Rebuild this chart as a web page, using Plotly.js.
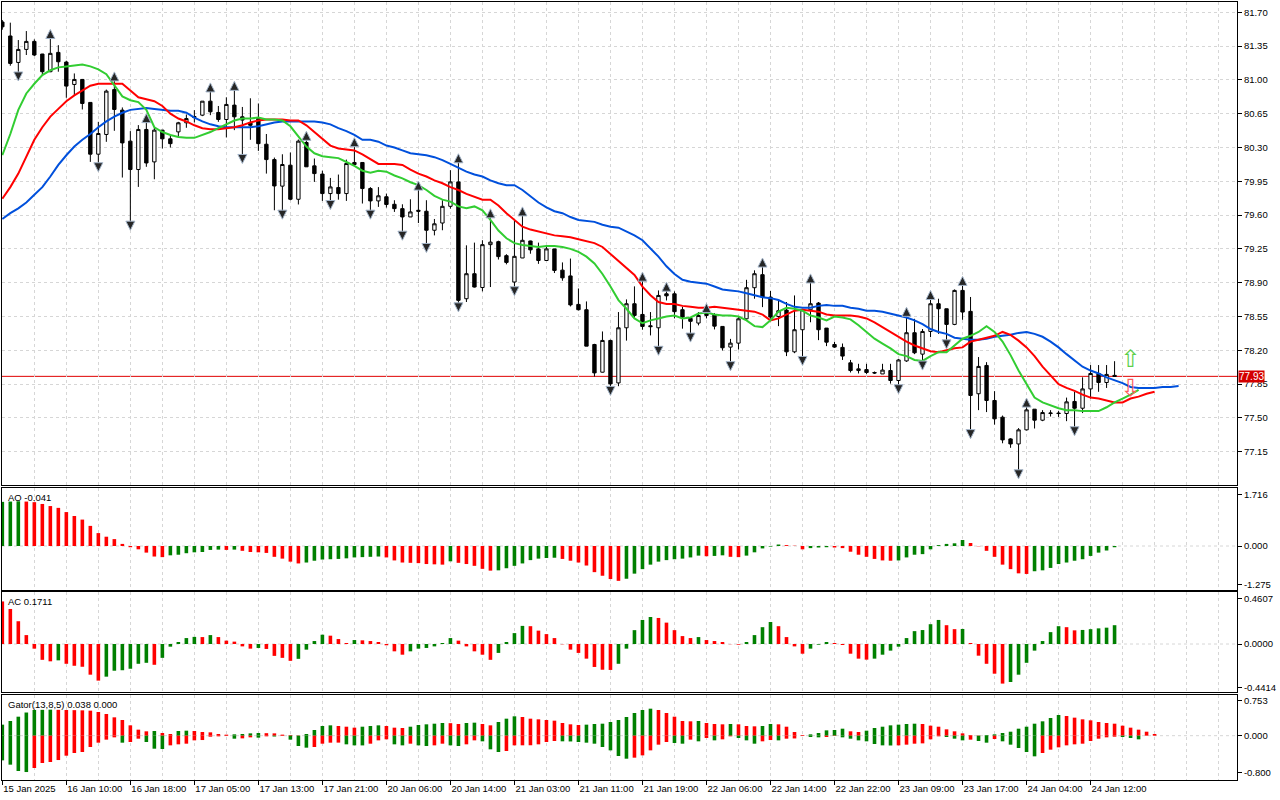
<!DOCTYPE html>
<html>
<head>
<meta charset="utf-8">
<script src="https://cdn.plot.ly/plotly-3.0.1.min.js"></script>
<style>
  html, body { margin: 0; padding: 0; background: #fff; }
  #chart { width: 1280px; height: 800px; }
</style>
</head>
<body>
<div id="chart"></div>
<script>
// H1 bars, index 0 = first bar on screen
var opens = [
81.60,81.455,81.181,81.316,81.399,81.268,81.085,81.285,81.185,80.953,
81.005,80.767,80.231,80.435,80.90,80.687,80.366,80.072,80.487,80.151,
80.48,80.39,80.462,80.556,80.61,80.635,80.78,80.663,80.59,80.739,
80.618,80.56,80.60,80.334,80.175,79.90,80.117,79.764,80.352,80.11,
80.025,79.823,79.885,79.823,80.124,80.145,79.875,79.747,79.79,79.712,
79.667,79.581,79.65,79.64,79.443,79.518,79.691,79.944,78.734,78.993,
78.85,79.294,79.325,79.18,78.907,79.156,79.332,79.25,79.13,79.25,
79.03,78.97,78.675,78.62,78.26,77.973,78.302,77.862,78.433,78.682,
78.571,78.454,78.433,78.785,78.785,78.62,78.53,78.482,78.56,78.567,
78.447,78.233,78.274,78.526,78.848,78.983,78.751,78.55,78.616,78.184,
78.413,78.62,78.689,78.43,78.26,78.23,78.07,77.99,78.00,77.97,
77.955,77.99,77.887,78.09,78.382,78.16,78.395,78.682,78.63,78.468,
78.82,78.603,77.75,78.043,77.68,77.507,77.282,77.23,77.376,77.59,
77.476,77.545,77.55,77.545,77.67,77.60,77.80,77.96,77.866,77.94];
var highs = [
81.62,81.593,81.413,81.506,81.42,81.27,81.437,81.36,81.199,81.067,
81.01,80.77,80.566,80.90,80.998,80.715,80.47,80.532,80.566,80.504,
80.48,80.42,80.566,80.642,80.687,80.78,80.884,80.73,80.82,80.90,
80.72,80.81,80.756,80.44,80.196,80.23,80.248,80.383,80.383,80.186,
80.06,79.985,80.02,80.175,80.317,80.145,79.89,79.89,79.823,79.754,
79.712,79.764,79.867,79.754,79.56,79.754,80.065,80.15,79.287,79.315,
79.34,79.58,79.335,79.195,79.553,79.60,79.335,79.315,79.287,79.25,
79.11,79.15,78.84,78.706,78.267,78.395,78.31,78.596,78.727,78.862,
78.924,78.596,78.82,78.82,78.81,78.65,78.544,78.596,78.60,78.585,
78.447,78.318,78.544,78.93,79.028,79.07,78.814,78.72,78.70,78.768,
78.62,78.906,78.70,78.43,78.288,78.27,78.10,78.06,78.06,77.98,
78.06,78.06,78.11,78.56,78.526,78.42,78.734,78.734,78.63,78.83,
78.88,78.752,78.13,78.077,77.777,77.524,77.29,77.394,77.62,77.59,
77.58,77.58,77.57,77.71,77.77,77.92,78.047,78.047,78.047,78.087];
var lows = [
81.52,81.147,81.074,81.258,81.247,81.04,81.08,81.085,80.815,80.843,
80.694,80.151,80.134,80.359,80.473,79.989,79.529,79.892,80.10,79.971,
80.29,80.30,80.41,80.504,80.56,80.625,80.635,80.566,80.404,80.48,
80.22,80.38,80.265,80.03,79.65,79.643,79.754,79.71,80.10,79.944,
79.747,79.743,79.76,79.747,80.11,79.72,79.643,79.685,79.678,79.633,
79.425,79.58,79.518,79.298,79.39,79.443,79.667,78.683,78.70,78.85,
78.81,78.855,79.14,79.09,78.85,79.155,79.20,79.095,79.125,79.00,
78.92,78.654,78.613,78.243,77.928,77.97,77.818,77.828,78.30,78.537,
78.413,78.354,78.233,78.716,78.53,78.424,78.37,78.458,78.53,78.416,
78.198,78.074,78.208,78.516,78.734,78.647,78.527,78.45,78.14,78.17,
78.128,78.49,78.305,78.243,78.225,78.10,77.97,77.96,77.955,77.955,
77.955,77.855,77.835,78.08,78.16,78.08,78.336,78.37,78.30,78.46,
78.516,77.37,77.58,77.56,77.43,77.237,77.19,76.954,77.37,77.39,
77.466,77.514,77.51,77.466,77.40,77.55,77.70,77.77,77.81,77.925];
var closes = [
81.55,81.171,81.316,81.399,81.258,81.085,81.275,81.188,80.936,81.005,
80.756,80.231,80.445,80.884,80.694,80.348,80.072,80.487,80.14,80.48,
80.39,80.34,80.556,80.60,80.62,80.78,80.67,80.59,80.746,80.618,
80.584,80.53,80.34,80.175,79.902,80.124,79.764,80.366,80.10,80.03,
79.823,79.892,79.823,80.134,80.145,79.875,79.747,79.80,79.71,79.667,
79.581,79.633,79.64,79.443,79.51,79.691,79.944,78.717,78.993,78.855,
79.294,79.32,79.17,79.11,79.173,79.339,79.24,79.13,79.25,79.027,
78.95,78.67,78.62,78.243,77.966,78.302,77.852,78.433,78.682,78.561,
78.447,78.445,78.768,78.764,78.60,78.544,78.50,78.56,78.58,78.45,
78.226,78.274,78.526,78.848,78.993,78.751,78.544,78.61,78.184,78.413,
78.62,78.682,78.413,78.284,78.233,78.14,77.99,78.008,77.97,77.965,
77.995,77.887,78.10,78.382,78.174,78.395,78.682,78.63,78.468,78.82,
78.596,77.732,78.033,77.68,77.49,77.272,77.23,77.376,77.583,77.476,
77.555,77.55,77.545,77.666,77.60,77.80,77.96,77.866,77.95,77.93];

// one label every 8 bars
var timeLabels = ['15 Jan 2025','16 Jan 10:00','16 Jan 18:00','17 Jan 05:00','17 Jan 13:00',
  '17 Jan 21:00','20 Jan 06:00','20 Jan 14:00','21 Jan 03:00','21 Jan 11:00','21 Jan 19:00',
  '22 Jan 06:00','22 Jan 14:00','22 Jan 22:00','23 Jan 09:00','23 Jan 17:00','24 Jan 04:00','24 Jan 12:00'];

// Alligator as drawn (already shifted forward 8 / 5 / 3 bars)
var jaw = [
79.56,79.62,79.67,79.73,79.81,79.89,80.00,80.12,80.22,80.31,
80.38,80.44,80.51,80.57,80.62,80.66,80.69,80.70,80.71,80.70,
80.69,80.68,80.68,80.66,80.61,80.57,80.54,80.52,80.51,80.51,
80.51,80.51,80.52,80.54,80.56,80.57,80.57,80.57,80.57,80.57,
80.56,80.54,80.50,80.47,80.43,80.38,80.38,80.36,80.32,80.30,
80.27,80.24,80.23,80.22,80.20,80.17,80.13,80.09,80.05,80.02,
80.00,79.96,79.93,79.91,79.91,79.86,79.79,79.73,79.68,79.64,
79.62,79.58,79.55,79.54,79.53,79.50,79.48,79.47,79.43,79.39,
79.34,79.26,79.17,79.07,78.99,78.93,78.91,78.90,78.89,78.86,
78.83,78.82,78.81,78.79,78.77,78.75,78.74,78.72,78.68,78.65,
78.64,78.64,78.66,78.67,78.66,78.66,78.64,78.63,78.61,78.61,
78.60,78.58,78.56,78.54,78.51,78.47,78.42,78.39,78.37,78.33,
78.32,78.31,78.31,78.32,78.34,78.35,78.36,78.38,78.39,78.37,
78.34,78.29,78.23,78.16,78.09,78.03,77.99,77.96,77.92,77.89,
77.86,77.82,77.81,77.81,77.81,77.82,77.82,77.83];
var teeth = [
79.77,79.89,80.03,80.20,80.38,80.51,80.62,80.70,80.78,80.84,
80.89,80.94,80.96,80.96,80.96,80.96,80.89,80.82,80.80,80.78,
80.73,80.65,80.60,80.57,80.53,80.50,80.49,80.49,80.50,80.51,
80.53,80.56,80.58,80.59,80.59,80.59,80.58,80.58,80.53,80.46,
80.38,80.32,80.29,80.28,80.27,80.23,80.18,80.13,80.13,80.13,
80.12,80.07,80.03,80.00,79.96,79.93,79.89,79.86,79.82,79.79,
79.76,79.76,79.70,79.62,79.55,79.48,79.45,79.43,79.41,79.39,
79.38,79.37,79.35,79.33,79.31,79.27,79.20,79.13,79.06,78.98,
78.86,78.77,78.70,78.68,78.68,78.66,78.65,78.64,78.64,78.65,
78.64,78.63,78.62,78.61,78.60,78.57,78.51,78.53,78.57,78.61,
78.62,78.61,78.60,78.57,78.56,78.56,78.56,78.55,78.53,78.49,
78.44,78.39,78.34,78.29,78.25,78.22,78.19,78.18,78.20,78.22,
78.23,78.29,78.31,78.33,78.35,78.39,78.36,78.30,78.23,78.14,
78.03,77.94,77.85,77.81,77.78,77.74,77.71,77.70,77.68,77.66,
77.66,77.70,77.72,77.75,77.77];
var lips = [
80.22,80.44,80.69,80.86,80.96,81.05,81.10,81.13,81.14,81.15,
81.16,81.14,81.11,81.06,80.94,80.83,80.79,80.77,80.69,80.51,
80.46,80.43,80.41,80.40,80.40,80.43,80.46,80.50,80.54,80.58,
80.60,80.60,80.61,80.59,80.59,80.58,80.52,80.41,80.31,80.24,
80.21,80.20,80.19,80.15,80.11,80.06,80.04,80.06,80.05,80.01,
79.98,79.94,79.91,79.86,79.80,79.76,79.74,79.69,79.67,79.69,
79.65,79.55,79.44,79.36,79.31,79.29,79.28,79.27,79.28,79.28,
79.27,79.25,79.22,79.17,79.10,78.99,78.86,78.72,78.63,78.53,
78.48,78.51,78.53,78.55,78.56,78.53,78.54,78.58,78.59,78.57,
78.56,78.56,78.55,78.51,78.45,78.44,78.51,78.60,78.64,78.63,
78.61,78.56,78.54,78.51,78.55,78.54,78.52,78.46,78.39,78.32,
78.27,78.22,78.16,78.14,78.10,78.09,78.14,78.18,78.18,78.25,
78.32,78.35,78.39,78.45,78.39,78.29,78.15,77.99,77.85,77.71,
77.66,77.63,77.60,77.58,77.58,77.57,77.57,77.57,77.61,77.66,
77.70,77.74,77.79];

// bars that carry a Bill Williams fractal
var fractalUp = [6,14,18,26,29,38,44,52,57,61,65,80,83,88,95,101,113,116,120,128];
var fractalDown = [2,12,16,30,35,41,46,50,53,57,64,76,82,86,91,100,112,115,118,121,127,134];

// the two hollow signal arrows right of the last bar
var signalBar = 141;
var signalUpPrice = 78.09;
var signalDownPrice = 77.79;

var aoValues = [
1.47,1.48,1.49,1.48,1.46,1.40,1.33,1.27,1.13,1.00,
0.88,0.67,0.43,0.31,0.23,0.07,-0.04,-0.11,-0.22,-0.35,
-0.37,-0.31,-0.29,-0.24,-0.21,-0.20,-0.13,-0.12,-0.13,-0.12,
-0.16,-0.20,-0.21,-0.23,-0.36,-0.42,-0.52,-0.58,-0.55,-0.49,
-0.45,-0.44,-0.43,-0.41,-0.38,-0.37,-0.36,-0.35,-0.38,-0.48,
-0.55,-0.56,-0.57,-0.60,-0.61,-0.62,-0.51,-0.56,-0.60,-0.66,
-0.76,-0.82,-0.81,-0.74,-0.66,-0.58,-0.47,-0.42,-0.40,-0.39,
-0.43,-0.49,-0.55,-0.65,-0.87,-0.99,-1.10,-1.16,-1.09,-0.92,
-0.77,-0.62,-0.52,-0.47,-0.44,-0.42,-0.38,-0.32,-0.34,-0.33,
-0.31,-0.36,-0.37,-0.32,-0.21,-0.08,-0.02,0.05,0.03,0.01,
-0.11,-0.07,-0.05,-0.04,-0.05,-0.07,-0.19,-0.29,-0.36,-0.43,
-0.48,-0.49,-0.48,-0.38,-0.29,-0.27,-0.11,0.03,0.07,0.09,
0.20,0.10,-0.01,-0.16,-0.36,-0.62,-0.77,-0.91,-0.93,-0.84,
-0.81,-0.73,-0.60,-0.55,-0.49,-0.44,-0.33,-0.22,-0.15,-0.041];
var acValues = [
0.43,0.354,0.23,0.09,-0.047,-0.16,-0.175,-0.165,-0.20,-0.22,
-0.23,-0.31,-0.37,-0.33,-0.27,-0.265,-0.25,-0.20,-0.19,-0.21,
-0.14,-0.027,0.02,0.06,0.072,0.070,0.09,0.07,0.034,0.024,
-0.024,-0.047,-0.04,-0.05,-0.12,-0.14,-0.17,-0.15,-0.057,0.03,
0.094,0.084,0.05,0.01,0.04,0.037,0.03,0.02,-0.013,-0.074,
-0.108,-0.074,-0.047,-0.04,-0.024,0.01,0.06,0.034,-0.024,-0.074,
-0.108,-0.16,-0.09,0.02,0.11,0.183,0.180,0.135,0.10,0.06,
-0.003,-0.057,-0.09,-0.148,-0.232,-0.26,-0.262,-0.20,-0.047,0.14,
0.243,0.273,0.263,0.216,0.14,0.08,0.06,0.07,0.04,0.03,
0.02,-0.002,-0.007,0.02,0.09,0.17,0.222,0.18,0.07,-0.024,
-0.098,-0.047,-0.007,0.02,0.01,-0.01,-0.098,-0.148,-0.158,-0.148,
-0.108,-0.067,-0.027,0.06,0.13,0.141,0.20,0.243,0.19,0.15,
0.152,0.01,-0.118,-0.20,-0.30,-0.40,-0.384,-0.31,-0.19,-0.067,
0.03,0.12,0.18,0.17,0.138,0.142,0.15,0.158,0.165,0.19];
// Gator: |jaw-teeth| above zero, |teeth-lips| below zero (stored as magnitudes)
var gatorUpper = [
0.238,0.317,0.41,0.50,0.554,0.558,0.562,0.558,0.554,0.551,
0.547,0.540,0.511,0.468,0.396,0.338,0.223,0.130,0.094,0.101,
0.058,0.036,0.101,0.108,0.101,0.079,0.072,0.036,0.022,0.029,
0.036,0.050,0.058,0.054,0.050,0.022,0.014,0.007,0.036,0.122,
0.209,0.223,0.209,0.194,0.173,0.194,0.209,0.223,0.209,0.173,
0.166,0.194,0.230,0.245,0.259,0.274,0.270,0.252,0.274,0.281,
0.252,0.223,0.295,0.367,0.418,0.403,0.367,0.353,0.338,0.324,
0.274,0.245,0.230,0.238,0.252,0.259,0.295,0.338,0.403,0.490,
0.554,0.583,0.554,0.490,0.410,0.317,0.310,0.317,0.274,0.252,
0.245,0.252,0.245,0.209,0.202,0.209,0.252,0.245,0.194,0.079,
0.014,0.029,0.058,0.115,0.122,0.151,0.094,0.079,0.108,0.166,
0.194,0.223,0.238,0.252,0.259,0.252,0.216,0.194,0.137,0.094,
0.050,0.014,0.007,0.014,0.029,0.058,0.086,0.151,0.194,0.259,
0.310,0.382,0.446,0.425,0.389,0.353,0.331,0.295,0.274,0.259,
0.216,0.173,0.130,0.086,0.036];
var gatorLower = [
0.533,0.626,0.763,0.785,0.698,0.590,0.569,0.526,0.432,0.374,
0.353,0.245,0.151,0.086,0.036,0.151,0.137,0.065,0.137,0.281,
0.288,0.209,0.187,0.173,0.101,0.094,0.022,0.014,0.007,0.065,
0.058,0.036,0.043,0.014,0.018,0.007,0.086,0.223,0.259,0.245,
0.173,0.151,0.150,0.187,0.209,0.210,0.173,0.101,0.079,0.187,
0.209,0.173,0.209,0.223,0.209,0.173,0.209,0.223,0.187,0.101,
0.122,0.295,0.353,0.331,0.209,0.208,0.207,0.187,0.137,0.115,
0.122,0.125,0.137,0.151,0.173,0.245,0.317,0.439,0.497,0.475,
0.425,0.317,0.194,0.137,0.158,0.173,0.086,0.122,0.050,0.101,
0.079,0.014,0.050,0.101,0.173,0.122,0.094,0.101,0.065,0.060,
0.004,0.029,0.036,0.029,0.007,0.036,0.065,0.101,0.122,0.180,
0.209,0.212,0.209,0.194,0.173,0.166,0.079,0.014,0.029,0.065,
0.101,0.086,0.115,0.151,0.072,0.122,0.194,0.266,0.353,0.446,
0.374,0.302,0.252,0.209,0.187,0.173,0.115,0.065,0.036,0.022,
0.029,0.050,0.079];

// value of each oscillator one bar before the window, only used to colour bar 0
var aoBefore = 1.46, acBefore = 0.50, gatorUpperBefore = 0.20, gatorLowerBefore = 0.50;

var aoTicks = [1.716, 0, -1.275], aoTickText = ['1.716', '0.000', '-1.275'];
var acTicks = [0.4607, 0, -0.4414], acTickText = ['0.4607', '0.0000', '-0.4414'];
var gatorTicks = [0.753, 0, -0.800], gatorTickText = ['0.753', '0.000', '-0.800'];

var GREEN = '#008000', RED = '#ff0000', GRID = '#d6d6d6';
var FONT = { family: 'Liberation Sans, Arial, sans-serif', size: 9.5, color: '#000' };

function indexes(n){ var a = []; for (var i = 0; i < n; i++) a.push(i); return a; }

function risingColors(values, before){
  return values.map(function(v, i){ var prev = i ? values[i-1] : before; return v > prev ? GREEN : RED; });
}

function makeLine(values, color){
  return { x: indexes(values.length), y: values, type: 'scatter', mode: 'lines', xaxis: 'x', yaxis: 'y',
           line: { color: color, width: 2 }, hoverinfo: 'skip' };
}

function makeFractals(idx, prices, gap, symbol){
  return { x: idx, y: idx.map(function(i){ return prices[i] + gap; }), type: 'scatter', mode: 'markers',
           xaxis: 'x', yaxis: 'y', hoverinfo: 'skip',
           marker: { symbol: symbol, size: 9, color: '#262626', line: { color: '#a3b4c8', width: 1 } } };
}

function makeHist(values, colors, xa, ya){
  return { x: indexes(values.length), y: values, type: 'bar', xaxis: xa, yaxis: ya, width: 0.45,
           marker: { color: colors, line: { width: 0 } }, hoverinfo: 'skip' };
}

var candles = { x: indexes(closes.length), open: opens, high: highs, low: lows, close: closes,
  type: 'candlestick', xaxis: 'x', yaxis: 'y', whiskerwidth: 0, hoverinfo: 'skip',
  increasing: { line: { color: '#000', width: 1 }, fillcolor: '#ffffff' },
  decreasing: { line: { color: '#000', width: 1 }, fillcolor: '#000000' } };

var signals = { x: [signalBar, signalBar], y: [signalUpPrice, signalDownPrice], type: 'scatter', mode: 'text',
  text: ['\u21e7', '\u21e9'], xaxis: 'x', yaxis: 'y', hoverinfo: 'skip',
  textfont: { family: 'DejaVu Sans', size: 24, color: ['#5ccf4a', '#ff5c5c'] } };

var gatorLowerNeg = gatorLower.map(function(v){ return -v; });

var traces = [
  candles,
  makeLine(jaw, '#0050dc'),
  makeLine(teeth, '#ff0000'),
  makeLine(lips, '#32cd32'),
  makeFractals(fractalUp, highs, 0.085, 'arrow-up'),
  makeFractals(fractalDown, lows, -0.085, 'arrow-down'),
  signals,
  makeHist(aoValues, risingColors(aoValues, aoBefore), 'x2', 'y2'),
  makeHist(acValues, risingColors(acValues, acBefore), 'x3', 'y3'),
  makeHist(gatorUpper, risingColors(gatorUpper, gatorUpperBefore), 'x4', 'y4'),
  makeHist(gatorLowerNeg, risingColors(gatorLower, gatorLowerBefore), 'x4', 'y4')
];

var gridIdx = []; for (var g = 0; g <= 152; g += 4) gridIdx.push(g);
var labelIdx = timeLabels.map(function(t, i){ return i * 8; });
var xRange = [-0.04, 154.3];

function xAxis(anchor, bottom){
  var ax = { anchor: anchor, range: xRange, showline: true, mirror: true, linecolor: '#000', linewidth: 1,
             zeroline: false, showgrid: true, gridcolor: GRID, griddash: '3px,3px', tickmode: 'array',
             tickvals: gridIdx, showticklabels: false, ticks: '', fixedrange: true };
  if (anchor !== 'y') ax.matches = 'x';
  if (bottom) {
    ax.tickvals = labelIdx; ax.ticktext = timeLabels; ax.showticklabels = true;
    ax.ticks = 'outside'; ax.ticklen = 4; ax.tickcolor = '#000'; ax.ticklabelposition = 'outside right';
    ax.minor = { tickmode: 'array', tickvals: gridIdx.filter(function(v){ return labelIdx.indexOf(v) < 0; }),
                 showgrid: true, gridcolor: GRID, griddash: '3px,3px', ticks: '' };
  }
  return ax;
}

function yAxis(anchor, domain, range, extra){
  var ax = { anchor: anchor, domain: domain, range: range, side: 'right', showline: true, mirror: true,
             linecolor: '#000', linewidth: 1, zeroline: false, ticks: 'outside', ticklen: 4, tickcolor: '#000',
             fixedrange: true, showgrid: false };
  for (var k in extra) ax[k] = extra[k];
  return ax;
}

function zeroLine(ya){
  return { type: 'line', xref: 'paper', x0: 0, x1: 1, yref: ya, y0: 0, y1: 0, layer: 'below',
           line: { color: GRID, width: 1, dash: '3px,3px' } };
}

function panelTitle(text, top){
  return { text: text, xref: 'paper', yref: 'paper', x: 0, y: top, xanchor: 'left', yanchor: 'top',
           xshift: 4, yshift: -2, showarrow: false, font: FONT };
}

var lastClose = closes[closes.length - 1];

var layout = {
  width: 1280, height: 800, margin: { l: 2, r: 43, t: 2, b: 20 },
  paper_bgcolor: '#ffffff', plot_bgcolor: '#ffffff', font: FONT,
  showlegend: false, hovermode: false, barmode: 'overlay', boxgap: 0.4,
  xaxis: Object.assign(xAxis('y', false), { rangeslider: { visible: false } }),
  xaxis2: xAxis('y2', false),
  xaxis3: xAxis('y3', false),
  xaxis4: xAxis('y4', true),
  yaxis: yAxis('x', [0.3792, 1], [76.805, 81.807],
    { tick0: 77.15, dtick: 0.35, tickformat: '.2f', showgrid: true, gridcolor: GRID, griddash: '3px,3px' }),
  yaxis2: yAxis('x2', [0.2442, 0.3753], [-1.465, 1.931], { tickmode: 'array', tickvals: aoTicks, ticktext: aoTickText }),
  yaxis3: yAxis('x3', [0.1131, 0.2416], [-0.485, 0.525], { tickmode: 'array', tickvals: acTicks, ticktext: acTickText }),
  yaxis4: yAxis('x4', [0, 0.1093], [-0.957, 0.879], { tickmode: 'array', tickvals: gatorTicks, ticktext: gatorTickText }),
  shapes: [
    zeroLine('y2'), zeroLine('y3'), zeroLine('y4'),
    { type: 'line', xref: 'paper', x0: 0, x1: 1, yref: 'y', y0: lastClose, y1: lastClose, layer: 'below',
      line: { color: '#e00000', width: 1 } }
  ],
  annotations: [
    panelTitle('AO -0.041', 0.3753),
    panelTitle('AC 0.1711', 0.2416),
    panelTitle('Gator(13,8,5) 0.038 0.000', 0.1093),
    { text: lastClose.toFixed(2), xref: 'paper', yref: 'y', x: 1, y: lastClose, xanchor: 'left', yanchor: 'middle',
      xshift: 1, showarrow: false, bgcolor: '#d40000', borderpad: 0,
      font: { family: FONT.family, size: 10, color: '#ffffff' } }
  ]
};

var conf = { responsive: false, displayModeBar: false, staticPlot: true };
Plotly.newPlot('chart', traces, layout, conf);
</script>
</body>
</html>
